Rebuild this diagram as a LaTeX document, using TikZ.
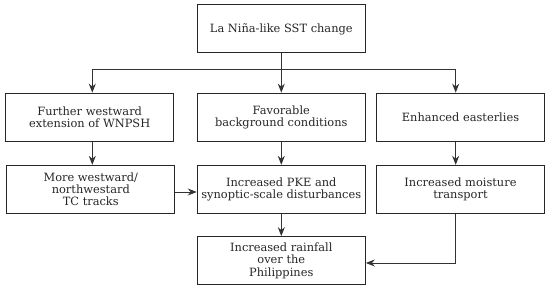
\documentclass[tikz,border=0pt]{standalone}
\usepackage{fontspec}
\setmainfont{DejaVu Serif}
\usetikzlibrary{arrows.meta}
\begin{document}
\begin{tikzpicture}[x=1pt,y=-1pt,
  box/.style={draw=black!85,line width=1.1pt,minimum width=168pt,minimum height=48pt,
    align=center,inner sep=0pt,font=\fontsize{11.4}{12.3}\selectfont,text=black!85},
  arr/.style={draw=black!80,line width=0.9pt,-{Stealth[length=9pt,width=7pt]}},
  ln/.style={draw=black!80,line width=0.9pt}]
\useasboundingbox (0,0) rectangle (550,291);
\node[box] (top) at (281.3,28.9) {La Niña-like SST change};
\node[box] (l2) at (89.7,117.2) {Further westward\\extension of WNPSH};
\node[box] (m2) at (281.3,117.2) {Favorable\\background conditions};
\node[box] (r2) at (460.5,117.2) {Enhanced easterlies};
\node[box] (l3) at (90.8,189.4) {More westward/\\northwestard\\TC tracks};
\node[box] (m3) at (281.3,189.4) {Increased PKE and\\synoptic-scale disturbances};
\node[box] (r3) at (460.5,189.4) {Increased moisture\\transport};
\node[box] (bot) at (281.3,260.7) {Increased rainfall\\over the\\Philippines};
\coordinate (jm) at (281.3,69);
\coordinate (jl) at (92.3,69);
\coordinate (jr) at (455.7,69);
\draw[ln] (top.south) -- (jm);
\draw[ln] (jl) -- (jr);
\draw[arr] (jl) -- (jl |- l2.north);
\draw[arr] (jm) -- (m2.north);
\draw[arr] (jr) -- (jr |- r2.north);
\draw[arr] (jl |- l2.south) -- (jl |- l3.north);
\draw[arr] (m2.south) -- (m3.north);
\draw[arr] (jr |- r2.south) -- (jr |- r3.north);
\draw[arr] ([yshift=-2.6pt]l3.east) -- ([yshift=-2.6pt]l3.east -| m3.west);
\draw[arr] (m3.south) -- (bot.north);
\coordinate (c) at (455.7,263);
\draw[arr] (jr |- r3.south) -- (c) -- (c -| bot.east);
\end{tikzpicture}
\end{document}
